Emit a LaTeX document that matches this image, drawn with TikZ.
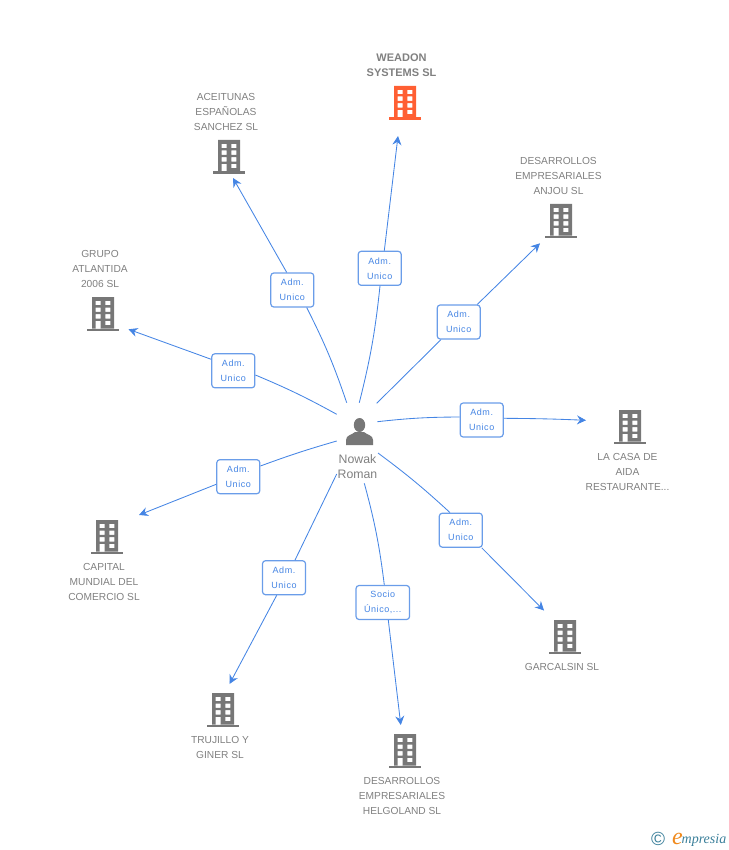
\documentclass[tikz,border=0pt]{standalone}
\usepackage{fontspec}
\setmainfont{Liberation Sans}
\newfontfamily\boxfont[LetterSpace=6]{Liberation Sans}
\newfontfamily\logofont{Liberation Serif}
\usetikzlibrary{arrows.meta}
\definecolor{buildgrey}{HTML}{777777}
\definecolor{labelgrey}{HTML}{808080}
\definecolor{buildorange}{HTML}{FF5F33}
\definecolor{linkblue}{HTML}{4585E4}
\definecolor{logoteal}{HTML}{3A7F9A}
\definecolor{logoorange}{HTML}{F08A1D}
\tikzstyle{company} = [text=labelgrey, font=\fontsize{10.2}{15}\selectfont, align=center, inner sep=0pt]
\tikzstyle{mainco} = [company, font=\fontsize{11}{15}\bfseries\selectfont]
\tikzstyle{person} = [company, font=\fontsize{12.3}{15.5}\selectfont]
\tikzstyle{relbox} = [draw=linkblue!80, fill=white, line width=1.2pt, rounded corners=3pt,
    minimum width=43pt, minimum height=34pt, inner sep=0pt, align=center,
    text=linkblue, font=\boxfont\fontsize{9}{15}\selectfont]
\tikzstyle{link} = [draw=linkblue, line width=0.85pt]
\tikzstyle{linkend} = [link, -{Stealth[length=9pt,width=9pt,inset=3pt]}]
\tikzset{
    building/.pic={
        \fill[even odd rule] (-11,-17) rectangle (11,14.5)
            (-7.3,-13.2) rectangle (-2.3,-8.8) (2.3,-13.2) rectangle (7.3,-8.8)
            (-7.3,-6.5) rectangle (-2.3,-2.1) (2.3,-6.5) rectangle (7.3,-2.1)
            (-7.3,0.2) rectangle (-2.3,4.6) (2.3,0.2) rectangle (7.3,4.6)
            (-7.3,6.8) rectangle (-2.3,14.5) (2.3,6.8) rectangle (7.3,11.2);
        \fill (-16,14.5) rectangle (16,17);
    }
}
\begin{document}
\begin{tikzpicture}[x=1pt,y=-1pt]
    \useasboundingbox (0,0) rectangle (728,850);
    % hub ends
    \coordinate (s1) at (359.3,402.7);
    \coordinate (s2) at (346.7,402.7);
    \coordinate (s3) at (376.7,403.3);
    \coordinate (s4) at (336.7,414.3);
    \coordinate (s5) at (377.3,421.7);
    \coordinate (s6) at (336.7,441);
    \coordinate (s7) at (378,453);
    \coordinate (s8) at (336.7,474);
    \coordinate (s9) at (364.3,483.3);
    % arrow tips
    \coordinate (t1) at (398,136);
    \coordinate (t2) at (233,178);
    \coordinate (t3) at (540,243.3);
    \coordinate (t4) at (128.5,329.3);
    \coordinate (t5) at (586,420.3);
    \coordinate (t6) at (139,515);
    \coordinate (t7) at (544,610.5);
    \coordinate (t8) at (229.5,684);
    \coordinate (t9) at (400.8,725);
    % relation boxes
    \node [relbox] (r1) at (379.7,268.3) {Adm.\\Unico};
    \node [relbox] (r2) at (292.3,290) {Adm.\\Unico};
    \node [relbox] (r3) at (458.7,322) {Adm.\\Unico};
    \node [relbox] (r4) at (233.3,370.8) {Adm.\\Unico};
    \node [relbox] (r5) at (481.7,420) {Adm.\\Unico};
    \node [relbox] (r6) at (238.3,476.7) {Adm.\\Unico};
    \node [relbox] (r7) at (460.8,530.2) {Adm.\\Unico};
    \node [relbox] (r8) at (284,577.7) {Adm.\\Unico};
    \node [relbox, minimum width=53.5pt] (r9) at (382.8,602.5) {Socio\\Único,...};
    % connectors
    \draw [link] (s1) to[bend right=4] ([xshift=0.3pt]r1.south);
    \draw [linkend] ([xshift=4.6pt]r1.north) to (t1);
    \draw [link] (s2) to[bend right=4] ([xshift=14.4pt]r2.south);
    \draw [linkend] ([xshift=-5.6pt]r2.north) to (t2);
    \draw [link] (s3) to ([xshift=-17.7pt]r3.south);
    \draw [linkend] ([xshift=18.6pt]r3.north) to (t3);
    \draw [link] (s4) to[bend right=3] ([yshift=-4.2pt]r4.east);
    \draw [linkend] ([yshift=11.5pt]r4.west) to (t4);
    \draw [link] (s5) to[bend left=3] ([yshift=3pt]r5.west);
    \draw [linkend] ([yshift=1.7pt]r5.east) to[bend left=1] (t5);
    \draw [link] (s6) to[bend right=2] ([yshift=10.7pt]r6.east);
    \draw [linkend] ([yshift=-7.6pt]r6.west) to (t6);
    \draw [link] (s7) to[bend left=3] ([xshift=-10.8pt]r7.north);
    \draw [linkend] ([xshift=20.9pt]r7.south) to (t7);
    \draw [link] (s8) to ([xshift=11pt]r8.north);
    \draw [linkend] ([xshift=-7.3pt]r8.south) to (t8);
    \draw [link] (s9) to[bend left=4] ([xshift=1.5pt]r9.north);
    \draw [linkend] ([xshift=5.5pt]r9.south) to (t9);
    % buildings
    \pic [buildorange] at (405,103) {building};
    \pic [buildgrey] at (229,157) {building};
    \pic [buildgrey] at (561,221) {building};
    \pic [buildgrey] at (103,314) {building};
    \pic [buildgrey] at (630,427) {building};
    \pic [buildgrey] at (107,537) {building};
    \pic [buildgrey] at (565,637) {building};
    \pic [buildgrey] at (223,710) {building};
    \pic [buildgrey] at (405,751) {building};
    % company names
    \node [mainco] (weadon) at (401.5,65) {WEADON\\SYSTEMS SL};
    \node [company] (aceitunas) at (226,112) {ACEITUNAS\\ESPAÑOLAS\\SANCHEZ SL};
    \node [company] (anjou) at (558.5,176) {DESARROLLOS\\EMPRESARIALES\\ANJOU SL};
    \node [company] (grupo) at (100,269) {GRUPO\\ATLANTIDA\\2006 SL};
    \node [company] (casa) at (627.5,472) {LA CASA DE\\AIDA\\RESTAURANTE...};
    \node [company] (capital) at (104,582) {CAPITAL\\MUNDIAL DEL\\COMERCIO SL};
    \node [company] (garcalsin) at (562,667) {GARCALSIN SL};
    \node [company] (trujillo) at (220,747) {TRUJILLO Y\\GINER SL};
    \node [company] (helgoland) at (402,796) {DESARROLLOS\\EMPRESARIALES\\HELGOLAND SL};
    % person
    \fill [buildgrey] (359.5,425) ellipse (5.7 and 7);
    \fill [buildgrey] (346,445) -- (346,440) .. controls (346,435) and (352,435) .. (355,432)
        -- (364,432) .. controls (367,435) and (373,435) .. (373,440) -- (373,445) -- cycle;
    \node [person] (nowak) at (357.5,466.5) {Nowak\\Roman};
    % logo
    \node [text=logoteal, inner sep=0pt, font=\fontsize{19}{19}\selectfont] (copyr) at (658,839) {©};
    \node [text=logoteal, inner sep=0pt, anchor=base west, font=\logofont\fontsize{14}{15}\itshape\selectfont] (logo) at (681.5,843.5) {mpresia};
    \node [text=logoorange, inner sep=0pt, anchor=base east, font=\logofont\fontsize{24}{15}\itshape\selectfont] (logoe) at (683,844) {e};
\end{tikzpicture}
\end{document}
